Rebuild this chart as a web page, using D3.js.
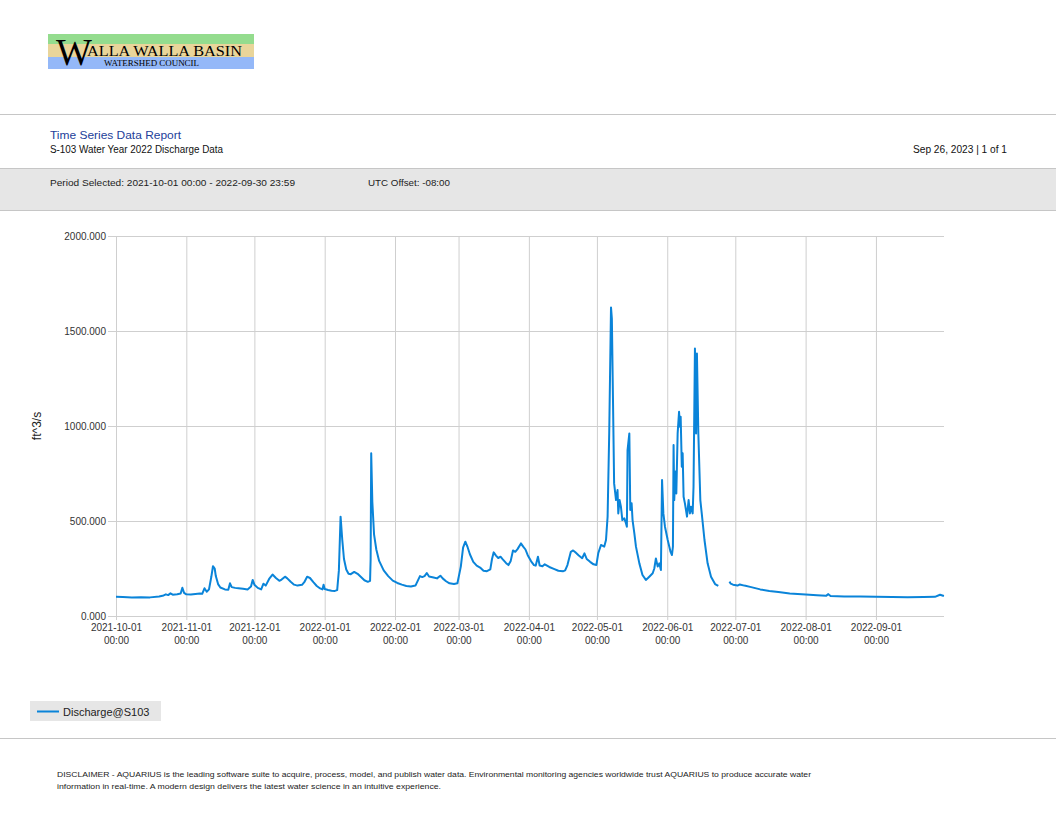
<!DOCTYPE html>
<html>
<head>
<meta charset="utf-8">
<script src="https://cdnjs.cloudflare.com/ajax/libs/d3/7.8.5/d3.min.js"></script>
<style>
  body { margin: 0; background: #fff; }
  svg { display: block; font-family: "Liberation Sans", Arial, sans-serif; }
</style>
</head>
<body>
<div id="vis"></div>
<script>
var w = 1056;
var h = 816;

// daily-ish readings of Discharge@S103 (ft^3/s), null = gap in record
var dates = [
  "2021-10-01 00:00","2021-10-04 00:00","2021-10-08 00:00","2021-10-12 00:00","2021-10-16 00:00",
  "2021-10-20 00:00","2021-10-22 00:00","2021-10-23 00:00","2021-10-24 00:00","2021-10-25 00:00",
  "2021-10-26 00:00","2021-10-28 00:00","2021-10-29 12:00","2021-10-30 06:00","2021-10-31 00:00",
  "2021-11-01 00:00","2021-11-03 00:00","2021-11-05 00:00","2021-11-07 00:00","2021-11-08 00:00",
  "2021-11-09 00:00","2021-11-10 00:00","2021-11-11 00:00","2021-11-12 00:00","2021-11-12 18:00",
  "2021-11-13 12:00","2021-11-14 00:00","2021-11-15 00:00","2021-11-16 00:00","2021-11-18 00:00",
  "2021-11-19 12:00","2021-11-20 06:00","2021-11-21 00:00","2021-11-22 12:00","2021-11-24 00:00",
  "2021-11-26 00:00","2021-11-28 00:00","2021-11-29 12:00","2021-11-30 06:00","2021-12-01 00:00",
  "2021-12-02 12:00","2021-12-04 00:00","2021-12-05 00:00","2021-12-06 00:00","2021-12-07 12:00",
  "2021-12-09 00:00","2021-12-10 12:00","2021-12-12 00:00","2021-12-13 00:00","2021-12-14 12:00",
  "2021-12-15 12:00","2021-12-17 00:00","2021-12-18 12:00","2021-12-20 00:00","2021-12-22 00:00",
  "2021-12-23 00:00","2021-12-24 06:00","2021-12-25 12:00","2021-12-27 00:00","2021-12-28 12:00",
  "2021-12-30 00:00","2021-12-31 00:00","2021-12-31 12:00","2022-01-01 00:00","2022-01-02 12:00",
  "2022-01-04 00:00","2022-01-05 12:00","2022-01-06 12:00","2022-01-07 06:00","2022-01-08 00:00",
  "2022-01-08 18:00","2022-01-09 12:00","2022-01-10 12:00","2022-01-11 12:00","2022-01-12 12:00",
  "2022-01-14 00:00","2022-01-15 12:00","2022-01-17 00:00","2022-01-18 12:00","2022-01-20 00:00",
  "2022-01-21 00:00","2022-01-21 06:00","2022-01-21 12:00","2022-01-22 00:00","2022-01-22 18:00",
  "2022-01-23 18:00","2022-01-25 00:00","2022-01-27 00:00","2022-01-29 00:00","2022-01-31 00:00",
  "2022-02-02 00:00","2022-02-04 00:00","2022-02-06 00:00","2022-02-08 00:00","2022-02-10 00:00",
  "2022-02-11 00:00","2022-02-12 00:00","2022-02-13 00:00","2022-02-14 00:00","2022-02-15 00:00",
  "2022-02-16 00:00","2022-02-18 00:00","2022-02-19 12:00","2022-02-21 00:00","2022-02-22 00:00",
  "2022-02-23 12:00","2022-02-25 00:00","2022-02-27 00:00","2022-02-28 12:00","2022-03-02 00:00",
  "2022-03-03 00:00","2022-03-04 00:00","2022-03-05 00:00","2022-03-06 00:00","2022-03-07 12:00",
  "2022-03-09 00:00","2022-03-10 12:00","2022-03-12 00:00","2022-03-13 12:00","2022-03-15 00:00",
  "2022-03-15 18:00","2022-03-16 12:00","2022-03-17 12:00","2022-03-18 12:00","2022-03-19 12:00",
  "2022-03-20 12:00","2022-03-22 00:00","2022-03-23 00:00","2022-03-24 00:00","2022-03-25 00:00",
  "2022-03-26 00:00","2022-03-27 00:00","2022-03-28 12:00","2022-03-29 12:00","2022-03-30 12:00",
  "2022-03-31 12:00","2022-04-02 00:00","2022-04-03 06:00","2022-04-04 00:00","2022-04-05 00:00",
  "2022-04-05 18:00","2022-04-07 00:00","2022-04-08 00:00","2022-04-10 00:00","2022-04-12 00:00",
  "2022-04-14 00:00","2022-04-16 00:00","2022-04-17 00:00","2022-04-18 00:00","2022-04-19 12:00",
  "2022-04-20 12:00","2022-04-21 12:00","2022-04-23 00:00","2022-04-24 12:00","2022-04-25 12:00",
  "2022-04-26 12:00","2022-04-28 00:00","2022-04-29 12:00","2022-04-30 18:00","2022-05-01 14:00",
  "2022-05-02 19:00","2022-05-04 05:00","2022-05-05 00:00","2022-05-05 17:00","2022-05-06 10:00",
  "2022-05-07 05:00","2022-05-07 14:00","2022-05-08 02:00","2022-05-08 14:00","2022-05-09 10:00",
  "2022-05-10 02:00","2022-05-10 10:00","2022-05-11 00:00","2022-05-11 14:00","2022-05-12 05:00",
  "2022-05-13 02:00","2022-05-13 19:00","2022-05-14 05:00","2022-05-14 12:00","2022-05-15 07:00",
  "2022-05-15 17:00","2022-05-16 07:00","2022-05-16 17:00","2022-05-17 12:00","2022-05-18 05:00",
  "2022-05-19 17:00","2022-05-21 02:00","2022-05-22 14:00","2022-05-23 12:00","2022-05-24 02:00",
  "2022-05-25 14:00","2022-05-26 07:00","2022-05-27 00:00","2022-05-27 19:00","2022-05-28 12:00",
  "2022-05-29 05:00","2022-05-29 17:00","2022-05-30 07:00","2022-05-31 00:00","2022-06-01 05:00",
  "2022-06-02 10:00","2022-06-03 02:00","2022-06-03 12:00","2022-06-03 19:00","2022-06-04 02:00",
  "2022-06-04 14:00","2022-06-05 00:00","2022-06-05 14:00","2022-06-06 05:00","2022-06-06 14:00",
  "2022-06-06 22:00","2022-06-07 10:00","2022-06-07 19:00","2022-06-08 05:00","2022-06-08 19:00",
  "2022-06-09 17:00","2022-06-10 10:00","2022-06-11 00:00","2022-06-11 12:00","2022-06-12 05:00",
  "2022-06-12 14:00","2022-06-13 05:00","2022-06-13 17:00","2022-06-14 02:00","2022-06-14 17:00",
  "2022-06-15 14:00","2022-06-16 05:00","2022-06-17 10:00","2022-06-18 19:00","2022-06-20 07:00",
  "2022-06-22 02:00","2022-06-23 12:00","2022-06-26 00:00","2022-06-28 10:00","2022-06-29 00:00",
  "2022-06-30 00:00","2022-07-02 00:00","2022-07-03 00:00","2022-07-05 00:00","2022-07-08 00:00",
  "2022-07-12 00:00","2022-07-16 00:00","2022-07-20 00:00","2022-07-25 00:00","2022-08-01 00:00",
  "2022-08-06 00:00","2022-08-10 00:00","2022-08-11 00:00","2022-08-12 00:00","2022-08-18 00:00",
  "2022-08-25 00:00","2022-09-01 00:00","2022-09-08 00:00","2022-09-15 00:00","2022-09-22 00:00",
  "2022-09-27 00:00","2022-09-29 06:00","2022-09-30 23:00"
];
var flows = [
  101,100,98,99,98,
  103,108,114,110,119,
  112,114,118,149,122,
  114,113,116,119,117,
  146,128,140,205,262,
  250,210,168,150,140,
  138,172,152,148,146,
  143,140,155,190,165,
  148,140,170,160,195,
  218,200,185,192,207,
  198,180,165,160,164,
  178,207,200,178,158,
  145,140,165,142,137,
  133,132,136,240,523,
  400,300,245,222,220,
  232,222,205,188,180,
  185,300,856,600,430,
  350,290,240,210,186,
  174,165,158,155,160,
  185,210,205,210,226,
  208,203,198,212,198,
  183,172,168,172,260,
  360,391,362,325,285,
  265,255,238,236,245,
  300,335,318,305,312,
  298,278,268,290,345,
  338,352,382,365,350,
  320,288,268,265,312,
  266,262,272,258,248,
  238,235,240,268,338,
  345,335,318,304,330,
  300,285,272,268,330,
  374,365,400,523,961,
  1624,1566,1137,698,610,
  663,540,610,575,505,
  514,488,470,873,961,
  558,593,505,435,365,
  277,216,190,200,207,
  225,250,303,260,277,
  242,716,540,470,400,
  339,321,365,900,610,
  760,645,961,1075,996,
  1049,786,856,628,593,
  523,610,540,575,540,
  680,1408,961,1382,961,
  610,540,400,277,207,
  168,158,null,181,170,
  165,160,166,160,152,
  140,132,126,119,113,
  109,106,115,105,103,
  102,101,100,99,100,
  101,112,105
];
var yTicks = [0, 500, 1000, 1500, 2000];
var monthTicks = ["2021-10-01","2021-11-01","2021-12-01","2022-01-01","2022-02-01","2022-03-01",
  "2022-04-01","2022-05-01","2022-06-01","2022-07-01","2022-08-01","2022-09-01"];
var seriesName = "Discharge@S103";

var parseTime = d3.timeParse("%Y-%m-%d %H:%M");
var parseDay = d3.timeParse("%Y-%m-%d");

var data = dates.map(function(d, i) { return {t: parseTime(d), v: flows[i]}; });

var svg = d3.select("#vis")
  .append("svg")
  .attr("width", w)
  .attr("height", h);

//logo
var logo = svg.append("g");
logo.append("rect").attr("x", 48).attr("y", 34).attr("width", 206).attr("height", 10).attr("fill", "#94dc8e");
logo.append("rect").attr("x", 48).attr("y", 44).attr("width", 206).attr("height", 13).attr("fill", "#e9d59a");
logo.append("rect").attr("x", 48).attr("y", 57).attr("width", 206).attr("height", 12).attr("fill", "#94b8f8");
logo.append("text").text("W")
  .attr("x", 56).attr("y", 65)
  .style("font-family", "'Liberation Serif', 'Times New Roman', serif")
  .style("font-size", "38px");
logo.append("text").text("ALLA WALLA BASIN")
  .attr("x", 87).attr("y", 56)
  .attr("textLength", 155).attr("lengthAdjust", "spacingAndGlyphs")
  .style("font-family", "'Liberation Serif', 'Times New Roman', serif")
  .style("font-size", "15.5px");
logo.append("text").text("WATERSHED COUNCIL")
  .attr("x", 104).attr("y", 66)
  .attr("textLength", 95).attr("lengthAdjust", "spacingAndGlyphs")
  .style("font-family", "'Liberation Serif', 'Times New Roman', serif")
  .style("font-size", "8.5px");

//header lines + band
svg.append("line").attr("x1", 0).attr("x2", w).attr("y1", 114.5).attr("y2", 114.5)
  .attr("stroke", "#c6c6c6").attr("stroke-width", 1.2);
svg.append("rect").attr("x", 0).attr("y", 168).attr("width", w).attr("height", 42).attr("fill", "#e6e6e6");
svg.append("line").attr("x1", 0).attr("x2", w).attr("y1", 168.5).attr("y2", 168.5)
  .attr("stroke", "#c6c6c6").attr("stroke-width", 1.2);
svg.append("line").attr("x1", 0).attr("x2", w).attr("y1", 210.5).attr("y2", 210.5)
  .attr("stroke", "#c6c6c6").attr("stroke-width", 1.2);

function headText(txt, x, y, len, size, color, anchor) {
  svg.append("text").text(txt)
    .attr("x", x).attr("y", y)
    .attr("textLength", len).attr("lengthAdjust", "spacingAndGlyphs")
    .attr("text-anchor", anchor || "start")
    .attr("fill", color)
    .style("font-size", size + "px");
}
headText("Time Series Data Report", 50, 139, 131, 11.5, "#23409a");
headText("S-103 Water Year 2022 Discharge Data", 50, 153, 173, 10, "#111");
headText("Sep 26, 2023 | 1 of 1", 913, 153, 94, 10, "#111");
headText("Period Selected: 2021-10-01 00:00 - 2022-09-30 23:59", 50, 186, 245, 9.5, "#222");
headText("UTC Offset: -08:00", 368, 186, 82, 9.5, "#222");

//chart
var plotL = 116, plotR = 944, plotT = 236, plotB = 616;

var x = d3.scaleTime()
  .domain([parseTime("2021-10-01 00:00"), parseTime("2022-09-30 23:59")])
  .range([plotL, plotR]);
var y = d3.scaleLinear()
  .domain([0, 2000])
  .range([plotB, plotT]);

var yAxis = svg.append("g")
  .attr("transform", "translate(108,0)")
  .call(d3.axisLeft(y)
    .tickValues(yTicks)
    .tickSizeInner(-(plotR - 108))
    .tickSizeOuter(0)
    .tickPadding(2)
    .tickFormat(d3.format(".3f")));
yAxis.select(".domain").remove();
yAxis.selectAll(".tick line").attr("stroke", "#cfcfcf");
yAxis.selectAll(".tick text")
  .attr("fill", "#333")
  .style("font-size", "10px")
  .style("font-family", "'Liberation Sans', Arial, sans-serif");

var xAxis = svg.append("g")
  .attr("transform", "translate(0," + (plotB + 4) + ")")
  .call(d3.axisBottom(x)
    .tickValues(monthTicks.map(parseDay))
    .tickSizeInner(-(plotB + 4 - plotT))
    .tickSizeOuter(0)
    .tickPadding(4)
    .tickFormat(""));
xAxis.select(".domain").remove();
xAxis.selectAll(".tick line").attr("stroke", "#cfcfcf");
xAxis.selectAll(".tick text")
  .attr("fill", "#333")
  .style("font-size", "10px")
  .style("font-family", "'Liberation Sans', Arial, sans-serif")
  .each(function(d) {
    var t = d3.select(this);
    t.append("tspan").attr("x", 0).attr("dy", "0.71em").text(d3.timeFormat("%Y-%m-%d")(d));
    t.append("tspan").attr("x", 0).attr("dy", "1.3em").text(d3.timeFormat("%H:%M")(d));
  });

svg.append("text")
  .text("ft^3/s")
  .attr("transform", "translate(41,426) rotate(-90)")
  .attr("text-anchor", "middle")
  .attr("fill", "#222")
  .style("font-size", "12px");

var line = d3.line()
  .defined(function(d) { return d.v != null; })
  .x(function(d) { return x(d.t); })
  .y(function(d) { return y(d.v); });

svg.append("path")
  .datum(data)
  .attr("d", line)
  .attr("fill", "none")
  .attr("stroke", "#0a84d9")
  .attr("stroke-width", 2)
  .attr("stroke-linejoin", "round");

//legend
svg.append("rect").attr("x", 30).attr("y", 701).attr("width", 131).attr("height", 20).attr("fill", "#e6e6e6");
svg.append("line").attr("x1", 37).attr("x2", 59).attr("y1", 711.5).attr("y2", 711.5)
  .attr("stroke", "#0a84d9").attr("stroke-width", 2);
svg.append("text").text(seriesName)
  .attr("x", 63).attr("y", 715.5)
  .attr("fill", "#222")
  .style("font-size", "11px");

//footer
svg.append("line").attr("x1", 0).attr("x2", w).attr("y1", 738.5).attr("y2", 738.5)
  .attr("stroke", "#c6c6c6").attr("stroke-width", 1.2);
headText("DISCLAIMER - AQUARIUS is the leading software suite to acquire, process, model, and publish water data. Environmental monitoring agencies worldwide trust AQUARIUS to produce accurate water",
  57, 777, 754, 8, "#222");
headText("information in real-time. A modern design delivers the latest water science in an intuitive experience.",
  57, 789, 384, 8, "#222");
</script>
</body>
</html>
